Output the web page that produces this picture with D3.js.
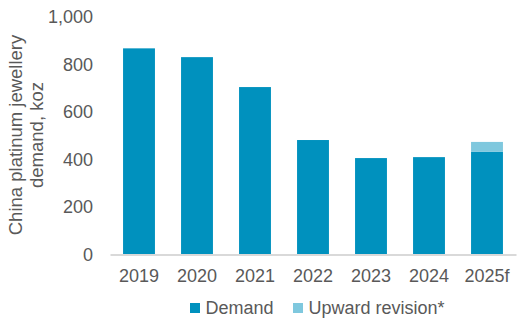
<!DOCTYPE html>
<html><head><meta charset="utf-8">
<script src="https://cdn.jsdelivr.net/npm/d3@7"></script>
<style>html,body{margin:0;padding:0;background:#fff;} svg{display:block;font-family:"Liberation Sans",Arial,sans-serif;}</style>
</head><body>
<svg id="c" width="532" height="323"></svg>
<script>
const categories = ["2019","2020","2021","2022","2023","2024","2025f"];
const demand = [868, 831, 705, 482, 406, 410, 432];
const revision = [0, 0, 0, 0, 0, 0, 42];
const yTicks = [0, 200, 400, 600, 800, 1000];
const seriesNames = ["Demand", "Upward revision*"];
const colors = ["#0091BE", "#7FC8DE"];

const svg = d3.select("#c");
const x = d3.scaleBand().domain(categories).range([110, 516]).paddingInner(0.45).paddingOuter(0.225);
const y = d3.scaleLinear().domain([0, 1000]).range([254.5, 17]);
const fmt = d3.format(",");
const textColor = "#595959";

// y tick labels
const ya = svg.append("g").attr("transform","translate(93,0)")
  .call(d3.axisLeft(y).tickValues(yTicks).tickSize(0).tickPadding(0).tickFormat(fmt));
ya.select(".domain").remove();
ya.selectAll("text").attr("fill", textColor).style("font-size","18px").style("font-family","Liberation Sans, Arial, sans-serif");

const rows = categories.map((c,i)=>({c, d: demand[i], r: revision[i]}));
svg.append("g").selectAll("rect.d").data(rows).join("rect")
  .attr("x", d=>x(d.c)).attr("width", x.bandwidth())
  .attr("y", d=>y(d.d)).attr("height", d=>y(0)-y(d.d)).attr("fill", colors[0]);
svg.append("g").selectAll("rect.r").data(rows.filter(d=>d.r>0)).join("rect")
  .attr("x", d=>x(d.c)).attr("width", x.bandwidth())
  .attr("y", d=>y(d.d+d.r)).attr("height", d=>y(d.d)-y(d.d+d.r)).attr("fill", colors[1]);

// x axis
const xa = svg.append("g").attr("transform", `translate(0,${y(0)})`)
  .call(d3.axisBottom(x).tickSize(0).tickPadding(15));
xa.select(".domain").attr("stroke","#D9D9D9").attr("stroke-width",2);
xa.selectAll("text").attr("fill", textColor).style("font-size","18px").style("font-family","Liberation Sans, Arial, sans-serif");

// y title
const t = svg.append("text").attr("transform","translate(22,135) rotate(-90)")
  .attr("text-anchor","middle").attr("fill",textColor).style("font-size","18.5px");
t.append("tspan").attr("x",0).attr("dy",0).text("China platinum jewellery");
t.append("tspan").attr("x",0).attr("dy",21).text("demand, koz");

// legend
const legX = [190, 293];
seriesNames.forEach((n,i)=>{
  const g = svg.append("g").attr("transform",`translate(${legX[i]},308)`);
  g.append("rect").attr("x",0).attr("y",-5).attr("width",10).attr("height",10).attr("fill",colors[i]);
  g.append("text").attr("x",15.5).attr("y",6).attr("fill",textColor).style("font-size","18px").text(n);
});
</script>
</body></html>
